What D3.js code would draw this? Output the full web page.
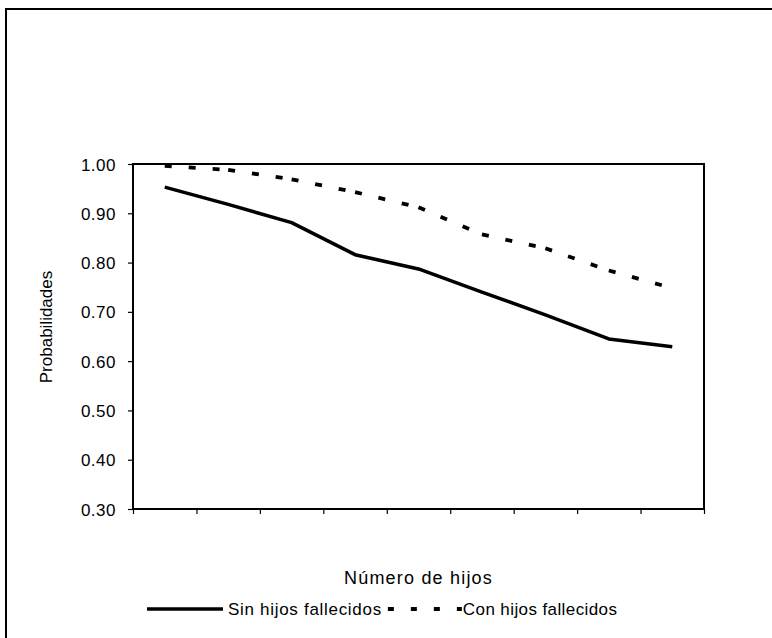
<!DOCTYPE html>
<html>
<head>
<meta charset="utf-8">
<script src="https://cdn.jsdelivr.net/npm/d3@7"></script>
<style>
  body { margin: 0; background: #fff; }
  text { font-family: "Liberation Sans", Arial, sans-serif; fill: #000; }
</style>
</head>
<body>
<div class="chart"></div>
<script>
// categories (number of children, unlabeled on the axis)
let categories = ["1", "2", "3", "4", "5", "6", "7", "8", "9"];
let sinHijos = [0.953, 0.918, 0.881, 0.816, 0.787, 0.740, 0.694, 0.645, 0.629];
let conHijos = [0.996, 0.988, 0.969, 0.943, 0.912, 0.857, 0.829, 0.784, 0.748];
let yTicks = [0.30, 0.40, 0.50, 0.60, 0.70, 0.80, 0.90, 1.00];
let seriesNames = ["Sin hijos fallecidos", "Con hijos fallecidos"];

let width = 772, height = 638;
let margin = {top: 164, left: 133, right: 68, bottom: 129};
let w = width - margin.left - margin.right, h = height - margin.top - margin.bottom;

let svg = d3.select(".chart").append("svg")
  .attr("width", width)
  .attr("height", height);

// outer chart frame (only top/left visible)
svg.append("path")
  .attr("d", "M6,640 L6,9 L775,9")
  .attr("fill", "none")
  .attr("stroke", "#000")
  .attr("stroke-width", 2);

let g = svg.append("g").attr("transform", "translate(" + margin.left + "," + margin.top + ")");

let xScale = d3.scaleBand().domain(categories).range([0, w]);
let yScale = d3.scaleLinear().domain([0.30, 1.00]).range([h, 0]);

// plot area border
g.append("rect")
  .attr("x", 0).attr("y", 0)
  .attr("width", w).attr("height", h)
  .attr("fill", "none")
  .attr("stroke", "#000")
  .attr("stroke-width", 2);

let yAxis = d3.axisLeft(yScale).tickValues(yTicks).tickSize(5).tickPadding(12)
  .tickFormat(d3.format(".2f"));
let yg = g.append("g").call(yAxis);
yg.select(".domain").remove();
yg.selectAll("line").attr("stroke", "#000").attr("stroke-width", 1.2);
yg.selectAll("text")
  .style("font-size", "17px")
  .style("letter-spacing", "0.5px")
  .style("font-family", "'Liberation Sans', Arial, sans-serif")
  .attr("dy", "0.36em");

// x ticks sit on band boundaries
let xBounds = categories.map(function(c) { return xScale(c); }).concat([w]);
let xAxisScale = d3.scaleLinear().domain([0, w]).range([0, w]);
let xAxis = d3.axisBottom(xAxisScale).tickValues(xBounds).tickSize(5).tickFormat("");
let xg = g.append("g").attr("transform", "translate(0," + h + ")").call(xAxis);
xg.select(".domain").remove();
xg.selectAll("line").attr("stroke", "#000").attr("stroke-width", 1.2);

let cx = function(i) { return xScale(categories[i]) + xScale.bandwidth() / 2; };

let line = d3.line()
  .x(function(d) { return cx(d.i); })
  .y(function(d) { return yScale(d.v); });

let solidData = sinHijos.map(function(v, i) { return {i: i, v: v}; });
g.append("path")
  .datum(solidData)
  .attr("d", line)
  .attr("fill", "none")
  .attr("stroke", "#000")
  .attr("stroke-width", 3.5)
  .attr("stroke-linejoin", "round");

// dashed series: dash pattern restarts on each segment, like the original
let dashData = conHijos.map(function(v, i) { return {i: i, v: v}; });
g.selectAll(".dseg")
  .data(d3.pairs(dashData))
  .enter().append("path")
  .attr("class", "dseg")
  .attr("d", line)
  .attr("fill", "none")
  .attr("stroke", "#000")
  .attr("stroke-width", 3.8)
  .attr("stroke-dasharray", "7,17");

// axis titles
svg.append("text")
  .attr("x", margin.left + w / 2)
  .attr("y", 584)
  .attr("text-anchor", "middle")
  .style("font-size", "18px")
  .style("letter-spacing", "1.2px")
  .text("Número de hijos");

svg.append("text")
  .attr("transform", "translate(52,327) rotate(-90)")
  .attr("text-anchor", "middle")
  .style("font-size", "17px")
  .text("Probabilidades");

// legend
let legY = 609;
svg.append("line")
  .attr("x1", 147).attr("x2", 223)
  .attr("y1", legY).attr("y2", legY)
  .attr("stroke", "#000").attr("stroke-width", 3.5);
let t1 = svg.append("text")
  .attr("x", 228).attr("y", legY + 6)
  .style("font-size", "17px")
  .style("letter-spacing", "0.7px")
  .text(seriesNames[0]);
let dx0 = 228 + t1.node().getComputedTextLength() + 6;
svg.append("line")
  .attr("x1", dx0).attr("x2", dx0 + 74)
  .attr("y1", legY).attr("y2", legY)
  .attr("stroke", "#000").attr("stroke-width", 3.8)
  .attr("stroke-dasharray", "6,17");
svg.append("text")
  .attr("x", dx0 + 75).attr("y", legY + 6)
  .style("font-size", "17px")
  .style("letter-spacing", "0.4px")
  .text(seriesNames[1]);
</script>
</body>
</html>
